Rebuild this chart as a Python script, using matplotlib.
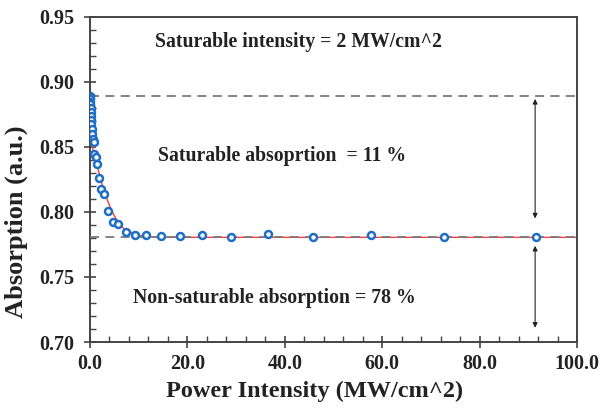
import matplotlib
matplotlib.use("Agg")
import matplotlib.pyplot as plt
from matplotlib.ticker import MultipleLocator, FormatStrFormatter

# ---- data ----
intensity = [0.02, 0.04, 0.06, 0.08, 0.10, 0.13, 0.16, 0.20, 0.25, 0.30, 0.38, 0.48,
             0.60, 0.72, 0.90, 1.20, 1.50, 1.85, 2.30, 2.95, 3.75, 4.80, 5.80, 7.30,
             9.20, 11.6, 14.6, 18.4, 23.0, 29.0, 36.5, 45.8, 57.8, 72.7, 91.5]
absorption = [0.889, 0.888, 0.887, 0.885, 0.883, 0.880, 0.877, 0.874, 0.871, 0.868,
              0.864, 0.860, 0.856, 0.854, 0.845, 0.842, 0.837, 0.826, 0.818, 0.814,
              0.8005, 0.792, 0.791, 0.785, 0.7826, 0.782, 0.7815, 0.7815, 0.782,
              0.781, 0.783, 0.781, 0.782, 0.781, 0.781]

fit_x = [0, 0.25, 0.5, 0.75, 1.0, 1.5, 2.0, 2.5, 3.0, 3.5, 4.0, 4.5, 5.0, 6.0, 7.0,
         8.0, 10.0, 12.0, 15.0, 20.0, 100.0]
fit_y = [0.858, 0.854, 0.850, 0.846, 0.843, 0.835, 0.828, 0.821, 0.815, 0.810,
         0.805, 0.801, 0.797, 0.791, 0.787, 0.785, 0.782, 0.781, 0.7805, 0.7805, 0.7805]

sat_level = 0.889
nonsat_level = 0.781

xticks = [0, 20, 40, 60, 80, 100]
yticks = [0.70, 0.75, 0.80, 0.85, 0.90, 0.95]

serif = ["Liberation Serif", "DejaVu Serif"]
txt_color = "#222222"

fig = plt.figure(figsize=(6.01, 4.12), dpi=100)
ax = fig.add_axes([90/601, 1-342/412, (577-90)/601, (342-17)/412])

ax.plot(fit_x, fit_y, color="#ff3b3b", lw=1.0, zorder=2)
ax.plot([0, 100], [sat_level, sat_level], color="#7a7a7a", lw=1.3, ls=(0, (5, 3.5)), zorder=3)
ax.plot([0, 100], [nonsat_level, nonsat_level], color="#7a7a7a", lw=1.3, ls=(0, (5, 3.5)), zorder=3)
ax.plot(intensity, absorption, ls="none", marker="o", ms=5, mfc="white",
        mec="#1f6fc5", mew=1.8, zorder=4)

# arrows
arrow_x = 91.4
ax.annotate("", xy=(arrow_x, 0.887), xytext=(arrow_x, 0.795),
            arrowprops=dict(arrowstyle="<|-|>", color="#222222", lw=0.8,
                            mutation_scale=7, shrinkA=0, shrinkB=0))
ax.annotate("", xy=(arrow_x, 0.774), xytext=(arrow_x, 0.711),
            arrowprops=dict(arrowstyle="<|-|>", color="#222222", lw=0.8,
                            mutation_scale=7, shrinkA=0, shrinkB=0))

ax.text(13.3, 0.9305, "Saturable intensity = 2 MW/cm^2", family=serif,
        fontweight="bold", fontsize=14.2, va="center", ha="left", color=txt_color)
ax.text(14.0, 0.843, "Saturable absoprtion  = 11 %", family=serif,
        fontweight="bold", fontsize=14.2, va="center", ha="left", color=txt_color)
ax.text(8.8, 0.734, "Non-saturable absorption = 78 %", family=serif,
        fontweight="bold", fontsize=14.2, va="center", ha="left", color=txt_color)

ax.set_xlim(0, 100)
ax.set_ylim(0.70, 0.95)
ax.set_xticks(xticks)
ax.set_yticks(yticks)
ax.xaxis.set_major_formatter(FormatStrFormatter("%.1f"))
ax.yaxis.set_major_formatter(FormatStrFormatter("%.2f"))
ax.xaxis.set_minor_locator(MultipleLocator(4))
ax.yaxis.set_minor_locator(MultipleLocator(0.01))

for sp in ax.spines.values():
    sp.set_color("#444444")
    sp.set_linewidth(1.4)

ax.tick_params(which="major", direction="inout", length=9, width=1.2, color="#444444",
               labelsize=14.5, labelcolor=txt_color)
ax.tick_params(axis="y", which="major", pad=7)
ax.tick_params(axis="x", which="major", pad=4)
ax.tick_params(which="minor", direction="in", length=4, width=1.0, color="#444444")
for lab in ax.get_xticklabels() + ax.get_yticklabels():
    lab.set_family(serif)
    lab.set_fontweight("bold")

ax.set_xlabel("Power Intensity (MW/cm^2)", family=serif, fontweight="bold",
              fontsize=17.5, color=txt_color)
ax.set_ylabel("Absorption (a.u.)", family=serif, fontweight="bold",
              fontsize=19, color=txt_color)
ax.xaxis.set_label_coords(0.462, -0.118)
ax.yaxis.set_label_coords(-0.127, 0.37)

fig.savefig("out.png", dpi=100)
